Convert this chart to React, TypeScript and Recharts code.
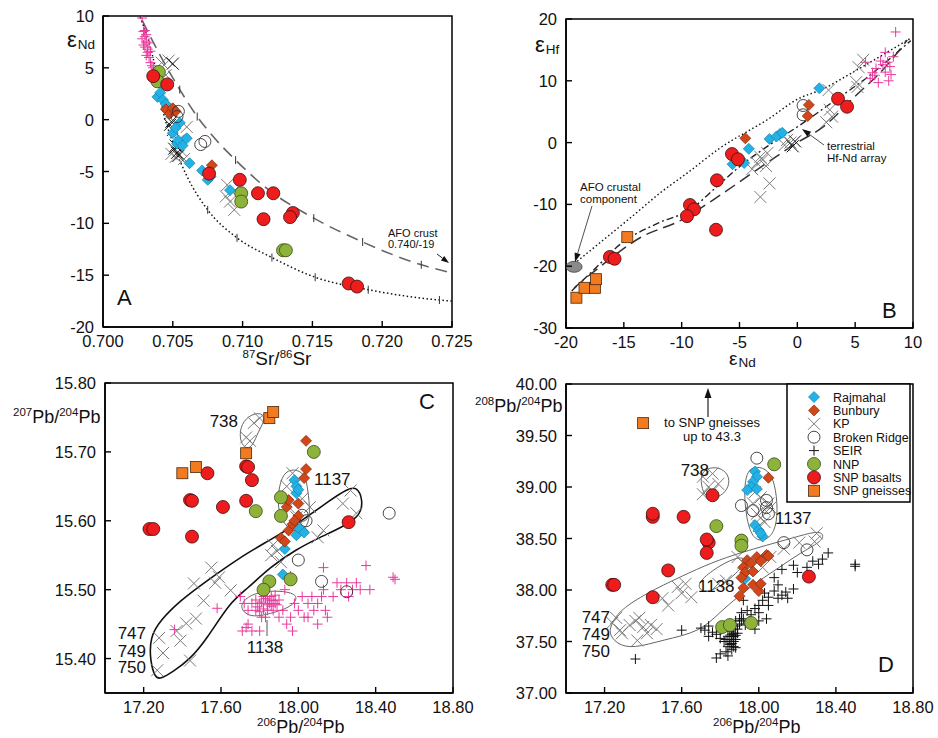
import React from 'react';
import { ComposedChart, Scatter, Line, XAxis, YAxis, ReferenceArea, ReferenceDot } from 'recharts';

type P = [number, number];

// ---- A: 87Sr/86Sr vs eNd
const aRajmahal: P[] = [[0.7039, 2.2], [0.7041, 2.6], [0.7043, 1.9], [0.7045, 1.5], [0.7050, -1.3], [0.7053, -2.3], [0.7054, -2.0], [0.7055, -0.3], [0.7057, -2.5], [0.7060, -1.8], [0.7062, -4.2], [0.7071, -4.9], [0.7075, -5.8], [0.7077, -5.5], [0.7091, -6.8], [0.7052, -0.8]];
const aBunbury: P[] = [[0.7045, 1.0], [0.7048, 0.6], [0.7050, 1.1], [0.7052, 0.8], [0.7078, -4.4]];
const aKP: P[] = [[0.7047, 5.7], [0.7042, 5.5], [0.7045, 4.3], [0.7054, -2.0], [0.7056, -3.0], [0.7052, -3.6], [0.7049, -3.3], [0.7058, -3.8], [0.7089, -6.3], [0.7088, -7.4], [0.7091, -7.9], [0.7094, -8.7], [0.7093, -7.0], [0.7060, -0.7]];
const aKPdark: P[] = [[0.7050, 5.4], [0.7048, -0.5], [0.7050, -1.0], [0.7051, -2.8], [0.7053, -3.2], [0.7052, -2.5], [0.7049, -0.2], [0.7054, -3.5]];
const aBroken: P[] = [[0.7054, 0.8], [0.7053, 0.3], [0.7070, -2.4], [0.7073, -2.1]];
const aSEIR: P[] = [[0.7028, 9.8], [0.7029, 8.5], [0.7030, 8.0], [0.7028, 7.8], [0.7031, 7.5], [0.7030, 7.0], [0.7032, 6.8], [0.7031, 6.2], [0.7033, 6.0], [0.7034, 5.5], [0.7035, 5.2], [0.7032, 6.5], [0.7029, 7.2], [0.7030, 8.6], [0.7033, 7.4], [0.7036, 5.0], [0.7031, 8.2], [0.7034, 6.6]];
const aNNP: P[] = [[0.7040, 4.6], [0.7039, 3.7], [0.7099, -7.1], [0.7099, -7.9], [0.7129, -12.6], [0.7131, -12.6]];
const aSNP: P[] = [[0.7036, 4.2], [0.7046, 3.4], [0.7076, -5.2], [0.7098, -5.8], [0.7111, -7.1], [0.7122, -7.1], [0.7115, -9.6], [0.7136, -9.0], [0.7134, -9.4], [0.7176, -15.8], [0.7182, -16.1]];
const aMixDashed: P[] = [[0.7028, 9.6], [0.7039, 6.7], [0.7055, 2.9], [0.70675, 0.3], [0.7080, -1.8], [0.7095, -3.9], [0.7118, -6.7], [0.7151, -9.5], [0.7186, -11.8], [0.7228, -14.0], [0.7250, -14.8]];
const aMixDotted: P[] = [[0.70266, 9.9], [0.70374, 5.0], [0.70424, 1.2], [0.70503, -2.3], [0.70603, -5.5], [0.7075, -8.7], [0.7096, -11.4], [0.7121, -13.3], [0.7152, -15.2], [0.7190, -16.4], [0.7241, -17.4], [0.7250, -17.5]];
const aDashedTicks: P[] = [[0.7055, 2.9], [0.70675, 0.3], [0.7095, -3.9], [0.7121, -6.9], [0.7151, -9.5], [0.7186, -11.8], [0.7228, -14.0]];
const aDottedTicks: P[] = [[0.7075, -8.7], [0.7096, -11.4], [0.7121, -13.3], [0.7152, -15.2], [0.7190, -16.4], [0.7241, -17.4]];

// ---- B: eNd vs eHf
const bRajmahal: P[] = [[1.9, 8.8], [-4.2, -1.0], [-4.6, -3.3], [-5.6, -3.5], [-2.4, 0.6], [-1.5, 1.4], [-1.8, 1.0], [-1.3, 1.6]];
const bBunbury: P[] = [[-4.5, 0.7], [1.0, 6.1], [0.9, 4.3]];
const bBroken: P[] = [[0.5, 6.0], [0.5, 4.5]];
const bKP: P[] = [[5.7, 13.4], [5.3, 12.2], [2.7, 8.5], [5.1, 9.8], [5.2, 9.0], [2.8, 5.3], [3.0, 4.2], [2.5, 3.3], [-0.9, 0.4], [-0.6, 0], [-1.1, -0.4], [-2.6, -1.7], [-3.0, -2.8], [-3.5, -3.3], [-3.2, -2.3], [-2.4, -6.6], [-3.2, -8.8], [-3.9, -4.3], [-2.7, -3.8]];
const bKPdark: P[] = [[-0.4, -0.6], [-0.2, 0.2]];
const bSEIR: P[] = [[8.5, 17.9], [7.8, 13.0], [7.2, 13.2], [8.0, 12.3], [6.7, 10.9], [6.3, 10.4], [7.6, 11.4], [8.3, 13.9], [7.9, 10.0], [7.0, 9.7], [5.9, 13.0], [7.6, 14.6], [7.4, 12.6], [6.8, 12.0], [8.1, 11.0], [6.5, 11.3]];
const bSNP: P[] = [[-5.65, -1.85], [-5.13, -2.7], [-6.95, -6.1], [-9.28, -10.1], [-8.93, -10.8], [-9.54, -11.9], [-7.03, -14.1], [3.52, 7.1], [4.3, 5.8], [-16.2, -18.5], [-15.8, -18.8]];
const bGneiss: P[] = [[-14.7, -15.3], [-19.1, -25.1], [-18.4, -23.5], [-17.5, -23.5], [-17.4, -22.1]];
const bAFO: P[] = [[-19.3, -20.1]];
const bMixDotted: P[] = [[-19.3, -19.6], [-17, -16.1], [-14, -11.5], [-11.9, -8.2], [-9.5, -4.9], [-6.7, -0.9], [-2.6, 3.7], [0.2, 7.2], [2, 8.5], [5, 11.6], [9.8, 16.9]];
const bArray: P[] = [[-19.5, -24], [-17, -19.5], [-15.6, -16.9], [-12, -13], [-9.3, -10.9], [-7, -7.2], [-5, -3.9], [-2.5, -0.5], [0.2, 2.8], [3, 6.5], [6, 10.5], [9.8, 16.5]];
const bMixDashed: P[] = [[-19.3, -23.5], [-17, -20], [-13.6, -15.4], [-10, -12.5], [-7.3, -9.3], [-3.5, -4.4], [0, 0], [2.2, 2.5], [5, 7.5], [7.5, 12], [9.5, 16.6]];

// ---- C: 206Pb/204Pb vs 207Pb/204Pb
const cRajmahal: P[] = [[17.98, 15.659], [17.99, 15.650], [17.99, 15.640], [18.00, 15.645], [18.02, 15.586], [17.99, 15.579], [18.00, 15.590], [17.93, 15.559], [17.92, 15.522], [18.03, 15.583]];
const cBunbury: P[] = [[18.04, 15.716], [18.04, 15.675], [18.03, 15.662], [17.94, 15.620], [17.95, 15.630], [18.00, 15.625], [17.95, 15.586], [17.97, 15.595], [17.91, 15.575], [17.93, 15.570], [18.00, 15.607], [17.98, 15.600]];
const cKP: P[] = [[17.28, 15.430], [17.30, 15.408], [17.27, 15.383], [17.39, 15.426], [17.42, 15.451], [17.47, 15.458], [17.46, 15.509], [17.51, 15.484], [17.59, 15.518], [17.57, 15.510], [17.65, 15.499], [17.55, 15.532], [17.37, 15.440], [17.44, 15.397], [17.87, 15.565], [17.89, 15.556], [17.86, 15.550], [17.91, 15.540], [18.10, 15.576], [18.13, 15.586], [18.23, 15.625], [18.27, 15.644], [18.30, 15.611], [17.97, 15.669], [17.95, 15.620], [18.06, 15.620], [18.02, 15.632], [17.77, 15.742], [17.73, 15.721], [17.75, 15.716], [17.80, 15.749], [17.94, 15.650], [17.99, 15.605]];
const cBroken: P[] = [[18.47, 15.611], [18.00, 15.543], [18.12, 15.512], [18.25, 15.497], [18.02, 15.608], [18.04, 15.600]];
const cSEIR: P[] = [[17.80, 15.48], [17.82, 15.49], [17.84, 15.47], [17.85, 15.48], [17.86, 15.49], [17.87, 15.47], [17.88, 15.48], [17.83, 15.46], [17.78, 15.47], [17.76, 15.48], [17.74, 15.47], [17.72, 15.48], [17.71, 15.44], [17.74, 15.45], [17.76, 15.44], [17.80, 15.44], [17.81, 15.46], [17.90, 15.46], [17.92, 15.47], [17.94, 15.45], [17.96, 15.46], [17.98, 15.48], [18.00, 15.47], [18.02, 15.49], [18.03, 15.46], [18.05, 15.48], [18.07, 15.49], [18.08, 15.47], [18.10, 15.48], [18.12, 15.49], [18.13, 15.50], [18.14, 15.47], [18.15, 15.46], [18.10, 15.45], [18.20, 15.51], [18.22, 15.50], [18.25, 15.51], [18.26, 15.49], [18.28, 15.50], [18.30, 15.51], [18.32, 15.50], [18.35, 15.535], [18.37, 15.50], [18.49, 15.518], [18.50, 15.515], [18.13, 15.532], [17.96, 15.52], [17.70, 15.49], [17.58, 15.473], [17.36, 15.442], [17.97, 15.44], [17.93, 15.50], [18.05, 15.46], [18.18, 15.49], [17.73, 15.445], [17.85, 15.485], [17.84, 15.478], [17.79, 15.475], [17.81, 15.482], [17.83, 15.487], [17.86, 15.476], [17.88, 15.492], [17.89, 15.478], [17.82, 15.472], [17.87, 15.484], [17.84, 15.490], [17.80, 15.468], [17.78, 15.485], [17.90, 15.485]];
const cNNP: P[] = [[18.08, 15.700], [17.78, 15.614], [17.91, 15.634], [17.91, 15.607], [17.85, 15.512], [17.82, 15.500], [17.96, 15.515]];
const cSNP: P[] = [[17.23, 15.588], [17.25, 15.588], [17.44, 15.630], [17.45, 15.629], [17.45, 15.577], [17.53, 15.669], [17.61, 15.620], [17.73, 15.629], [17.73, 15.679], [17.74, 15.678], [17.76, 15.659], [18.26, 15.598]];
const cGneiss: P[] = [[17.40, 15.669], [17.47, 15.678], [17.73, 15.698], [17.85, 15.749], [17.87, 15.758]];
const cField747: P[] = [[17.259, 15.372], [17.233, 15.397], [17.233, 15.431], [17.285, 15.455], [17.388, 15.484], [17.528, 15.513], [17.698, 15.547], [17.854, 15.572], [18.024, 15.601], [18.164, 15.630], [18.252, 15.646], [18.304, 15.650], [18.334, 15.630], [18.322, 15.609], [18.252, 15.594], [18.097, 15.574], [17.993, 15.559], [17.854, 15.533], [17.735, 15.501], [17.647, 15.482], [17.528, 15.429], [17.440, 15.399], [17.352, 15.381], [17.285, 15.370]];
const cField738: P[] = [[17.698, 15.736], [17.740, 15.753], [17.812, 15.758], [17.828, 15.746], [17.792, 15.729], [17.766, 15.710], [17.735, 15.703], [17.698, 15.714]];
const cField1137: P[] = [[17.973, 15.676], [18.035, 15.669], [18.050, 15.644], [18.061, 15.615], [18.050, 15.591], [17.998, 15.583], [17.942, 15.589], [17.895, 15.611], [17.895, 15.644], [17.921, 15.669]];
const cField1138: P[] = [[17.698, 15.480], [17.766, 15.495], [17.869, 15.499], [17.973, 15.496], [17.998, 15.487], [17.957, 15.474], [17.854, 15.465], [17.766, 15.460], [17.714, 15.467]];

// ---- D: 206Pb/204Pb vs 208Pb/204Pb
const dRajmahal: P[] = [[17.98, 39.15], [17.99, 39.10], [17.97, 39.05], [17.96, 39.00], [17.94, 38.97], [17.99, 38.98], [17.98, 38.63], [18.00, 38.58], [18.02, 38.52], [18.01, 38.55], [17.93, 38.11]];
const dBunbury: P[] = [[18.05, 39.09], [17.94, 38.29], [17.96, 38.26], [17.92, 38.22], [17.93, 38.17], [17.91, 38.12], [17.97, 38.18], [17.99, 38.32], [18.01, 38.28], [18.04, 38.34], [18.05, 38.33], [17.92, 38.02], [17.90, 37.94], [17.97, 38.05], [18.00, 37.99], [18.01, 38.06]];
const dKP: P[] = [[17.71, 39.10], [17.76, 39.13], [17.74, 39.00], [17.79, 39.03], [17.71, 38.93], [17.76, 38.96], [18.01, 38.90], [17.97, 38.84], [18.03, 38.78], [18.05, 38.84], [18.06, 38.80], [18.01, 38.70], [18.03, 38.66], [17.99, 38.74], [17.98, 38.95], [18.00, 38.62], [17.24, 37.68], [17.28, 37.61], [17.26, 37.73], [17.33, 37.66], [17.36, 37.70], [17.38, 37.73], [17.40, 37.64], [17.44, 37.66], [17.47, 37.62], [17.42, 37.58], [17.37, 37.51], [17.29, 37.58], [17.50, 37.92], [17.53, 37.85], [17.58, 38.03], [17.62, 38.06], [17.65, 37.93], [17.60, 37.97], [17.79, 38.06], [17.83, 38.09], [17.89, 38.32], [18.06, 38.32], [18.13, 38.40], [18.21, 38.46], [18.29, 38.47], [18.30, 38.55], [17.92, 38.26], [18.02, 38.22]];
const dBroken: P[] = [[17.99, 39.28], [17.91, 38.82], [17.97, 38.77], [18.04, 38.87], [18.04, 38.80], [18.05, 38.74], [18.13, 38.46], [18.25, 38.39]];
const dSEIR: P[] = [[17.36, 37.33], [17.60, 37.61], [17.72, 37.61], [17.74, 37.65], [17.76, 37.59], [17.78, 37.57], [17.80, 37.53], [17.82, 37.50], [17.84, 37.45], [17.86, 37.55], [17.85, 37.60], [17.87, 37.58], [17.88, 37.52], [17.83, 37.40], [17.80, 37.38], [17.78, 37.34], [17.86, 37.48], [17.89, 37.62], [17.90, 37.67], [17.92, 37.72], [17.88, 37.70], [17.91, 37.78], [17.94, 37.80], [17.96, 37.76], [17.98, 37.82], [18.00, 37.85], [18.02, 37.90], [17.93, 37.66], [18.03, 37.97], [18.05, 37.93], [18.08, 37.99], [18.10, 37.92], [18.12, 37.95], [18.14, 37.98], [18.15, 37.92], [18.05, 37.85], [18.00, 37.78], [17.95, 37.70], [17.98, 37.62], [18.00, 37.70], [18.10, 38.05], [18.18, 38.01], [18.20, 38.17], [18.25, 38.22], [18.28, 38.28], [18.31, 38.25], [18.33, 38.30], [18.36, 38.36], [18.18, 38.24], [18.12, 38.20], [18.08, 38.12], [18.50, 38.25], [18.50, 38.23], [17.70, 37.63], [17.74, 37.55], [18.04, 37.72], [17.84, 37.66], [17.88, 37.44], [17.92, 37.90], [17.87, 37.55], [17.85, 37.52], [17.86, 37.57], [17.87, 37.50], [17.88, 37.56], [17.84, 37.55], [17.86, 37.62], [17.89, 37.58], [17.85, 37.47], [17.87, 37.45], [17.83, 37.52], [17.88, 37.65], [17.90, 37.72], [17.91, 37.70], [17.86, 37.42], [17.84, 37.36]];
const dNNP: P[] = [[18.08, 39.22], [17.78, 38.62], [17.91, 38.48], [17.91, 38.43], [17.81, 37.64], [17.85, 37.66], [17.96, 37.68]];
const dSNP: P[] = [[17.24, 38.05], [17.25, 38.05], [17.45, 38.71], [17.45, 38.74], [17.61, 38.71], [17.76, 38.92], [17.74, 38.46], [17.73, 38.49], [17.73, 38.36], [17.53, 38.19], [17.45, 37.93], [18.26, 38.13]];
const dGneiss: P[] = [[17.40, 39.62]];
const dField747: P[] = [[17.239, 37.680], [17.280, 37.806], [17.420, 37.971], [17.591, 38.126], [17.762, 38.272], [17.902, 38.359], [18.043, 38.437], [18.177, 38.505], [18.302, 38.575], [18.340, 38.540], [18.322, 38.466], [18.214, 38.359], [18.110, 38.223], [18.006, 38.097], [17.902, 37.951], [17.799, 37.786], [17.695, 37.592], [17.503, 37.515], [17.348, 37.430], [17.262, 37.475], [17.220, 37.583]];
const dField738: P[] = [[17.695, 39.136], [17.747, 39.194], [17.809, 39.184], [17.851, 39.097], [17.840, 38.971], [17.788, 38.893], [17.731, 38.893], [17.705, 38.971]];
const dField1137: P[] = [[17.939, 39.165], [17.991, 39.204], [18.048, 39.165], [18.084, 39.039], [18.100, 38.777], [18.084, 38.553], [18.022, 38.466], [17.965, 38.505], [17.934, 38.709], [17.923, 38.971]];
const dField1138: P[] = [[17.695, 38.097], [17.799, 38.243], [17.902, 38.330], [17.939, 38.291], [17.887, 38.165], [17.799, 38.029], [17.721, 37.971], [17.685, 38.019]];

const legendItems: [string, string][] = [['raj', 'Rajmahal'], ['bun', 'Bunbury'], ['kp', 'KP'], ['br', 'Broken Ridge'], ['seirk', 'SEIR'], ['nnp', 'NNP'], ['snp', 'SNP basalts'], ['gn', 'SNP gneisses']];

const FONT = '"Liberation Sans", Arial, Helvetica, sans-serif';
const xy = (a: P[]) => a.map(([x, y]) => ({ x, y }));

function sym(kind: string, cx: number, cy: number) {
  const d = 5.5;
  switch (kind) {
    case 'raj':
      return <path d={`M${cx},${cy - d}L${cx + d},${cy}L${cx},${cy + d}L${cx - d},${cy}Z`} fill="#22b2e6" stroke="#1683ad" strokeWidth={0.7} />;
    case 'bun':
      return <path d={`M${cx},${cy - d}L${cx + d},${cy}L${cx},${cy + d}L${cx - d},${cy}Z`} fill="#d3461a" stroke="#7c2a0c" strokeWidth={0.7} />;
    case 'kp':
    case 'kpd': {
      const s = 6;
      return <path d={`M${cx - s},${cy - s}L${cx + s},${cy + s}M${cx - s},${cy + s}L${cx + s},${cy - s}`} stroke={kind === 'kp' ? '#7a7a7a' : '#111'} strokeWidth={1} fill="none" />;
    }
    case 'br':
      return <circle cx={cx} cy={cy} r={6} fill="none" stroke="#333" strokeWidth={0.9} />;
    case 'seir':
    case 'seirk': {
      const s = 5;
      return <path d={`M${cx - s},${cy}L${cx + s},${cy}M${cx},${cy - s}L${cx},${cy + s}`} stroke={kind === 'seir' ? '#e8399c' : '#111'} strokeWidth={1} fill="none" />;
    }
    case 'nnp':
      return <circle cx={cx} cy={cy} r={6.5} fill="#8db33a" stroke="#3a4a18" strokeWidth={0.8} />;
    case 'snp':
      return <circle cx={cx} cy={cy} r={6.5} fill="#ee1c1c" stroke="#3a1010" strokeWidth={0.8} />;
    case 'gn':
      return <rect x={cx - 5.5} y={cy - 5.5} width={11} height={11} fill="#f27a1f" stroke="#4a2a10" strokeWidth={0.8} />;
    case 'afo':
      return <ellipse cx={cx} cy={cy} rx={8} ry={5.5} fill="#8a8a8a" stroke="#444" strokeWidth={0.8} />;
    case 'tick':
      return <path d={`M${cx},${cy - 4}L${cx},${cy + 4}`} stroke="#333" strokeWidth={1} />;
    default:
      return <g />;
  }
}

const series = (data: P[], kind: string) => (
  <Scatter data={xy(data)} isAnimationActive={false} shape={(p: any) => sym(kind, p.cx, p.cy)} />
);

const curve = (data: P[], type: any, stroke: string, width: number, dash?: string) => (
  <Line data={xy(data)} dataKey="y" type={type} stroke={stroke} strokeWidth={width} strokeDasharray={dash} dot={false} activeDot={false} isAnimationActive={false} />
);

function arrow(x1: number, y1: number, x2: number, y2: number, w = 1, head = 8) {
  const a = Math.atan2(y2 - y1, x2 - x1);
  const bx = x2 - head * Math.cos(a);
  const by = y2 - head * Math.sin(a);
  const px = Math.sin(a) * head * 0.35;
  const py = -Math.cos(a) * head * 0.35;
  return (
    <g>
      <line x1={x1} y1={y1} x2={bx} y2={by} stroke="#222" strokeWidth={w} />
      <path d={`M${x2},${y2}L${bx + px},${by + py}L${bx - px},${by - py}Z`} fill="#111" />
    </g>
  );
}

const bottomTick = (fmt: (v: number) => string) => (p: any) => (
  <g>
    <line x1={p.x} x2={p.x} y1={p.y} y2={p.y - 6} stroke="#000" strokeWidth={1.4} />
    <text x={p.x} y={p.y + 19.5} textAnchor="middle" fontSize={16.5} fill="#111">{fmt(p.payload.value)}</text>
  </g>
);

const leftTick = (fmt: (v: number) => string) => (p: any) => (
  <g>
    <line x1={p.x} x2={p.x + 6} y1={p.y} y2={p.y} stroke="#000" strokeWidth={1.4} />
    <text x={p.x - 9} y={p.y + 6} textAnchor="end" fontSize={16.5} fill="#111">{fmt(p.payload.value)}</text>
  </g>
);

interface PanelProps {
  left: number;
  top: number;
  margin: { top: number; right: number; bottom: number; left: number };
  xDomain: [number, number];
  yDomain: [number, number];
  xTicks: number[];
  yTicks: number[];
  xFmt: (v: number) => string;
  yFmt: (v: number) => string;
  overlay: React.ReactNode;
  children: React.ReactNode;
}

// charts are 25px wider than their slot so edge tick labels are not clipped
const W = 494;
const H = 369;

function Panel({ left, top, margin, xDomain, yDomain, xTicks, yTicks, xFmt, yFmt, overlay, children }: PanelProps) {
  return (
    <div style={{ position: 'absolute', left, top, width: W, height: H }}>
      <ComposedChart width={W} height={H} margin={{ ...margin, right: margin.right + 25 }}>
        <XAxis type="number" dataKey="x" domain={xDomain} ticks={xTicks} allowDataOverflow height={30} tickSize={0} tickMargin={0} tickLine={false} axisLine={{ stroke: '#000', strokeWidth: 1.5 }} tick={bottomTick(xFmt)} interval={0} />
        <YAxis type="number" dataKey="y" domain={yDomain} ticks={yTicks} allowDataOverflow width={40} tickSize={0} tickMargin={0} tickLine={false} axisLine={{ stroke: '#000', strokeWidth: 1.5 }} tick={leftTick(yFmt)} interval={0} />
        <ReferenceArea x1={xDomain[0]} x2={xDomain[1]} y1={yDomain[0]} y2={yDomain[1]} fill="none" stroke="#000" strokeWidth={1.5} ifOverflow="visible" />
        {children}
        <ReferenceDot x={xDomain[0]} y={yDomain[1]} r={0} ifOverflow="visible" shape={(p: any) => <g transform={`translate(${p.cx},${p.cy})`}>{overlay}</g>} />
      </ComposedChart>
    </div>
  );
}

const supLabel = (x: number, y: number, a: string, b: string, c: string, d: string, anchor = 'start', big = 18) => (
  <text x={x} y={y} fontSize={big} textAnchor={anchor as any} fill="#111">
    <tspan fontSize={11.5} dy={-7}>{a}</tspan>
    <tspan dy={7}>{b}</tspan>
    <tspan fontSize={11.5} dy={-7}>{c}</tspan>
    <tspan dy={7}>{d}</tspan>
  </text>
);

const eps = (x: number, y: number, sub: string, size = 22) => (
  <text x={x} y={y} fontSize={size} fill="#111">ε<tspan fontSize={13.5} dy={2} dx={1}>{sub}</tspan></text>
);

const overlayA = (
  <g>
    {eps(-36, 31, 'Nd')}
    {supLabel(174, 349, '87', 'Sr/', '86', 'Sr', 'middle', 19)}
    <text x={14} y={289} fontSize={22} fill="#111">A</text>
    <text x={285} y={221} fontSize={11} fill="#111">AFO crust</text>
    <text x={285} y={232} fontSize={11} fill="#111">0.740/-19</text>
    {arrow(334, 238, 346, 247, 1, 8)}
  </g>
);

const overlayB = (
  <g>
    {eps(-31, 33, 'Hf')}
    {eps(163, 346, 'Nd', 19)}
    <text x={316} y={299} fontSize={22} fill="#111">B</text>
    <text x={14} y={172} fontSize={11.5} fill="#111">AFO crustal</text>
    <text x={14} y={184} fontSize={11.5} fill="#111">component</text>
    {arrow(26, 187, 9, 243, 0.8, 9)}
    <text x={261} y={131} fontSize={11.5} fill="#111">terrestrial</text>
    <text x={261} y={143} fontSize={11.5} fill="#111">Hf-Nd array</text>
    {arrow(258, 126, 236, 110, 0.8, 9)}
  </g>
);

const overlayC = (
  <g>
    {supLabel(-92, 40, '207', 'Pb/', '204', 'Pb')}
    {supLabel(152, 350, '206', 'Pb/', '204', 'Pb')}
    <text x={314} y={26} fontSize={22} fill="#111">C</text>
    <text x={133} y={44} fontSize={17} textAnchor="end" fill="#111">738</text>
    <text x={209} y={102} fontSize={17} fill="#111">1137</text>
    <text x={160} y={270} fontSize={17} textAnchor="middle" fill="#111">1138</text>
    <line x1={162} y1={237} x2={162} y2={253} stroke="#555" strokeWidth={1} />
    <text x={41} y={256} fontSize={17} textAnchor="end" fill="#111">747</text>
    <text x={41} y={274} fontSize={17} textAnchor="end" fill="#111">749</text>
    <text x={41} y={290} fontSize={17} textAnchor="end" fill="#111">750</text>
  </g>
);

const overlayD = (
  <g>
    {supLabel(-91, 28, '208', 'Pb/', '204', 'Pb')}
    {supLabel(147, 349, '206', 'Pb/', '204', 'Pb')}
    <text x={312} y={288} fontSize={22} fill="#111">D</text>
    <text x={143} y={92} fontSize={17} textAnchor="end" fill="#111">738</text>
    <text x={209} y={140} fontSize={17} fill="#111">1137</text>
    <text x={132} y={208} fontSize={17} fill="#111">1138</text>
    <text x={44} y={239} fontSize={17} textAnchor="end" fill="#111">747</text>
    <text x={44} y={256} fontSize={17} textAnchor="end" fill="#111">749</text>
    <text x={44} y={273} fontSize={17} textAnchor="end" fill="#111">750</text>
    {arrow(142, 33, 142, 4, 1.2, 10)}
    <text x={146} y={43} fontSize={13} textAnchor="middle" fill="#111">to SNP gneisses</text>
    <text x={146} y={57} fontSize={13} textAnchor="middle" fill="#111">up to 43.3</text>
    <rect x={221} y={0} width={123} height={118} fill="#fff" stroke="#000" strokeWidth={1.5} />
    {legendItems.map(([k, label], i) => (
      <g key={k}>
        {sym(k, 248, 13 + i * 13.4)}
        <text x={267} y={17.5 + i * 13.4} fontSize={12.5} fill="#111">{label}</text>
      </g>
    ))}
  </g>
);

const f3 = (v: number) => v.toFixed(3);
const f2 = (v: number) => v.toFixed(2);
const f0 = (v: number) => String(v);

export default function App() {
  return (
    <div style={{ position: 'absolute', left: 0, top: 0, width: 938, height: 738, background: '#fff', fontFamily: FONT, overflow: 'hidden' }}>
      <Panel left={0} top={0} margin={{ top: 16, right: 17, bottom: 12, left: 63 }} xDomain={[0.7, 0.725]} yDomain={[-20, 10]}
        xTicks={[0.7, 0.705, 0.71, 0.715, 0.72, 0.725]} yTicks={[-20, -15, -10, -5, 0, 5, 10]} xFmt={f3} yFmt={f0} overlay={overlayA}>
        {curve(aMixDashed, 'monotone', '#666', 1.6, '12 7')}
        {curve(aMixDotted, 'monotone', '#111', 1.5, '1.5 2.5')}
        {series(aDashedTicks, 'tick')}
        {series(aDottedTicks, 'tick')}
        {series(aSEIR, 'seir')}
        {series(aKP, 'kp')}
        {series(aKPdark, 'kpd')}
        {series(aRajmahal, 'raj')}
        {series(aBunbury, 'bun')}
        {series(aBroken, 'br')}
        {series(aNNP, 'nnp')}
        {series(aSNP, 'snp')}
      </Panel>
      <Panel left={469} top={0} margin={{ top: 19, right: 25, bottom: 11, left: 57 }} xDomain={[-20, 10]} yDomain={[-30, 20]}
        xTicks={[-20, -15, -10, -5, 0, 5, 10]} yTicks={[-30, -20, -10, 0, 10, 20]} xFmt={f0} yFmt={f0} overlay={overlayB}>
        {curve(bMixDotted, 'monotone', '#111', 1.4, '1.5 2.5')}
        {curve(bArray, 'monotone', '#222', 1.4, '7 3 2 3')}
        {curve(bMixDashed, 'monotone', '#333', 1.5, '12 6')}
        {series(bSEIR, 'seir')}
        {series(bKP, 'kp')}
        {series(bKPdark, 'kpd')}
        {series(bBroken, 'br')}
        {series(bRajmahal, 'raj')}
        {series(bBunbury, 'bun')}
        {series(bSNP, 'snp')}
        {series(bGneiss, 'gn')}
        {series(bAFO, 'afo')}
      </Panel>
      <Panel left={0} top={369} margin={{ top: 14, right: 16, bottom: 15, left: 65 }} xDomain={[17.0, 18.8]} yDomain={[15.35, 15.8]}
        xTicks={[17.2, 17.6, 18.0, 18.4, 18.8]} yTicks={[15.4, 15.5, 15.6, 15.7, 15.8]} xFmt={f2} yFmt={f2} overlay={overlayC}>
        {curve(cField747, 'basisClosed', '#111', 1.6)}
        {curve(cField738, 'basisClosed', '#666', 1)}
        {curve(cField1137, 'basisClosed', '#666', 1)}
        {curve(cField1138, 'basisClosed', '#666', 1)}
        {series(cKP, 'kp')}
        {series(cSEIR, 'seir')}
        {series(cBroken, 'br')}
        {series(cRajmahal, 'raj')}
        {series(cBunbury, 'bun')}
        {series(cNNP, 'nnp')}
        {series(cSNP, 'snp')}
        {series(cGneiss, 'gn')}
      </Panel>
      <Panel left={469} top={369} margin={{ top: 15, right: 25, bottom: 15, left: 57 }} xDomain={[17.0, 18.8]} yDomain={[37, 40]}
        xTicks={[17.2, 17.6, 18.0, 18.4, 18.8]} yTicks={[37, 37.5, 38, 38.5, 39, 39.5, 40]} xFmt={f2} yFmt={f2} overlay={overlayD}>
        {curve(dField747, 'basisClosed', '#666', 1)}
        {curve(dField738, 'basisClosed', '#666', 1)}
        {curve(dField1137, 'basisClosed', '#666', 1)}
        {curve(dField1138, 'basisClosed', '#666', 1)}
        {series(dKP, 'kp')}
        {series(dSEIR, 'seirk')}
        {series(dBroken, 'br')}
        {series(dRajmahal, 'raj')}
        {series(dBunbury, 'bun')}
        {series(dNNP, 'nnp')}
        {series(dSNP, 'snp')}
        {series(dGneiss, 'gn')}
      </Panel>
    </div>
  );
}
